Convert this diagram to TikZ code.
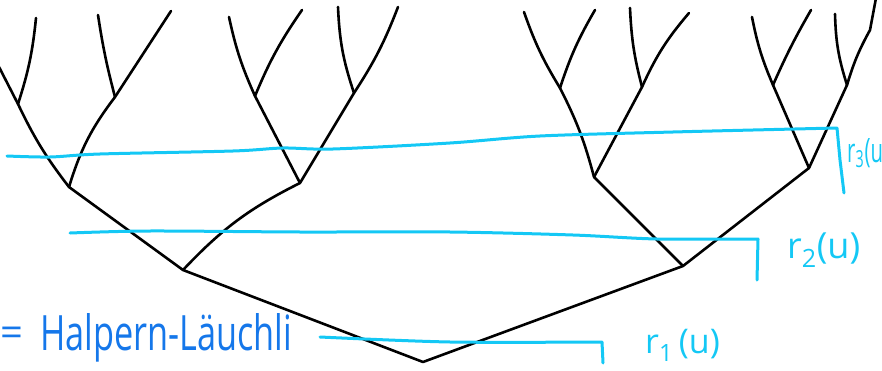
\documentclass[tikz,border=0pt]{standalone}
\usepackage{fontspec}
\setmainfont{Open Sans}
\usepackage{graphicx}
\definecolor{cyanline}{HTML}{14C8F5}
\definecolor{handblue}{HTML}{1577EA}
\tikzset{
  edge/.style={draw=black, line width=2.6pt, line cap=round, line join=round},
  cut/.style={draw=cyanline, line width=3pt, line cap=round, line join=round},
  lab/.style={text=cyanline, inner sep=0pt, font=\fontsize{36}{40}\selectfont},
  hl/.style={text=handblue, inner sep=0pt}
}
\begin{document}
\begin{tikzpicture}[x=1pt,y=1pt]
\useasboundingbox (0,0) rectangle (882,370);
% tree vertices
\coordinate (R) at (423,8);
\coordinate (L) at (183,100);
\coordinate (Rr) at (683,104);
\coordinate (LL) at (69,183);
\coordinate (LR) at (300,187);
\coordinate (RL) at (594,193);
\coordinate (RR) at (809,202);
\coordinate (LLL) at (18,266);
\coordinate (LLR) at (115,273);
\coordinate (LRL) at (255,274);
\coordinate (LRR) at (354,277);
\coordinate (RLL) at (560,282);
\coordinate (RLR) at (642,283);
\coordinate (RRL) at (773,285);
\coordinate (RRR) at (847,285);
% leaves
\coordinate (a1) at (-2,305);
\coordinate (a2) at (36,352);
\coordinate (b1) at (98,355);
\coordinate (b2) at (171,359);
\coordinate (c1) at (229,353);
\coordinate (c2) at (302,360);
\coordinate (d1) at (338,363);
\coordinate (d2) at (398,363);
\coordinate (e1) at (524,358);
\coordinate (e2) at (595,360);
\coordinate (f1) at (630,362);
\coordinate (f2) at (689,357);
\coordinate (g1) at (752,353);
\coordinate (g2) at (811,360);
\coordinate (h1) at (835,356);
\coordinate (hk) at (870,340);
\coordinate (h2) at (876,372);
% internal edges
\draw[edge] (L) -- (R) -- (Rr);
\draw[edge] (L) -- (LL);
\draw[edge] (L) to[bend left=10] (LR);
\draw[edge] (Rr) -- (RL);
\draw[edge] (Rr) -- (RR);
\draw[edge] (LL) to[bend left=6] (LLL);
\draw[edge] (LL) to[bend left=10] (LLR);
\draw[edge] (LR) -- (LRL);
\draw[edge] (LR) -- (LRR);
\draw[edge] (RL) to[bend right=6] (RLL);
\draw[edge] (RL) -- (RLR);
\draw[edge] (RR) -- (RRL);
\draw[edge] (RR) -- (RRR);
% leaf edges
\draw[edge] (LLL) -- (a1);
\draw[edge] (LLL) to[bend right=6] (a2);
\draw[edge] (LLR) to[bend left=3] (b1);
\draw[edge] (LLR) -- (b2);
\draw[edge] (LRL) to[bend left=6] (c1);
\draw[edge] (LRL) to[bend left=6] (c2);
\draw[edge] (LRR) to[bend left=8] (d1);
\draw[edge] (LRR) to[bend right=6] (d2);
\draw[edge] (RLL) to[bend left=6] (e1);
\draw[edge] (RLL) to[bend left=6] (e2);
\draw[edge] (RLR) to[bend left=6] (f1);
\draw[edge] (RLR) to[bend left=8] (f2);
\draw[edge] (RRL) to[bend left=6] (g1);
\draw[edge] (RRL) to[bend left=3] (g2);
\draw[edge] (RRR) to[bend left=8] (h1);
\draw[edge] (RRR) to[bend left=6] (hk) -- (h2);
% cut lines
\draw[cut] plot[smooth] coordinates {(7,214) (50,213) (100,216) (233,219) (283,222) (333,221) (450,227) (540,234) (673,238) (837,242)} -- (840,210) -- (844,177);
\draw[cut] plot[smooth] coordinates {(70,137) (150,139) (300,138) (450,138) (573,135) (657,131) (758,131)} -- (757,90);
\draw[cut] plot[smooth] coordinates {(320,33) (450,28) (602,28)} -- (603,7);
% labels
\node[lab, anchor=base west] (r2) at (787,112) {r\textsubscript{2}(u)};
\node[lab, anchor=base west, font=\fontsize{34}{38}\selectfont] (r1) at (645,17) {r\textsubscript{1}\,(u)};
\node[text=cyanline, inner sep=0pt, anchor=base west] (r3) at (847,208) {\resizebox{36pt}{24pt}{r\textsubscript{3}(u}};
\node[hl, anchor=base west, font=\fontsize{40}{42}\selectfont] (eq) at (0,24) {=};
\node[hl, anchor=base west] (hal) at (40,20) {\resizebox{252pt}{37pt}{Halpern-Läuchli}};
\end{tikzpicture}
\end{document}
